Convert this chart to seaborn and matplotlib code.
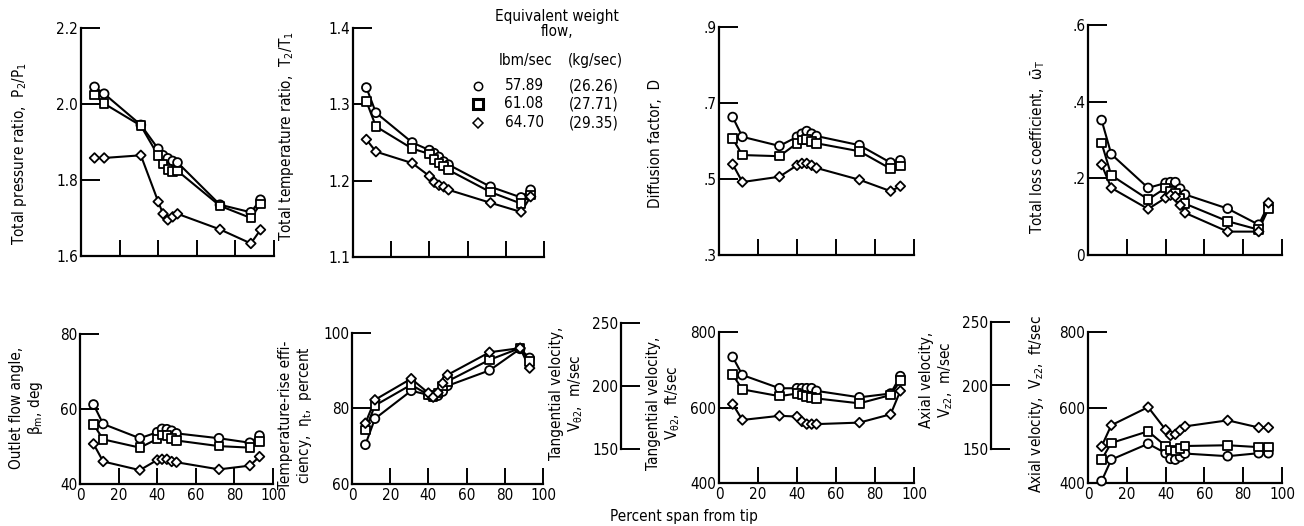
import numpy as np
import pandas as pd
import seaborn as sns
import matplotlib
matplotlib.use("Agg")
import matplotlib.pyplot as plt
from matplotlib.lines import Line2D

sns.set_theme(style="white")
plt.rcParams['font.family'] = ['DejaVu Sans']
plt.rcParams['font.stretch'] = 'condensed'
plt.rcParams['mathtext.default'] = 'regular'
plt.rcParams['text.color'] = 'black'
plt.rcParams['xtick.color'] = 'black'
plt.rcParams['ytick.color'] = 'black'

# ---------------- data ----------------
span = [7, 12, 31, 40, 42.5, 45, 47.5, 50, 72, 88, 93]
flow_labels = ["57.89", "61.08", "64.70"]
flow_kg = ["(26.26)", "(27.71)", "(29.35)"]

pressure_ratio_57 = [2.045, 2.027, 1.945, 1.882, 1.865, 1.857, 1.850, 1.846, 1.735, 1.715, 1.748]
pressure_ratio_61 = [2.024, 2.001, 1.943, 1.864, 1.842, 1.828, 1.822, 1.824, 1.732, 1.700, 1.737]
pressure_ratio_64 = [1.858, 1.858, 1.865, 1.743, 1.711, 1.695, 1.703, 1.711, 1.670, 1.633, 1.669]

temp_ratio_57 = [1.322, 1.289, 1.250, 1.240, 1.236, 1.231, 1.225, 1.221, 1.192, 1.178, 1.188]
temp_ratio_61 = [1.304, 1.271, 1.242, 1.235, 1.228, 1.223, 1.219, 1.214, 1.185, 1.170, 1.181]
temp_ratio_64 = [1.254, 1.238, 1.223, 1.206, 1.198, 1.194, 1.192, 1.188, 1.171, 1.159, 1.179]

diffusion_57 = [0.663, 0.611, 0.587, 0.611, 0.619, 0.626, 0.619, 0.613, 0.589, 0.543, 0.549]
diffusion_61 = [0.606, 0.563, 0.560, 0.594, 0.603, 0.604, 0.598, 0.594, 0.573, 0.527, 0.534]
diffusion_64 = [0.539, 0.492, 0.506, 0.536, 0.541, 0.541, 0.536, 0.529, 0.498, 0.468, 0.481]

loss_57 = [0.352, 0.263, 0.175, 0.188, 0.190, 0.190, 0.173, 0.158, 0.121, 0.079, 0.131]
loss_61 = [0.292, 0.208, 0.145, 0.175, 0.167, 0.160, 0.149, 0.134, 0.088, 0.066, 0.120]
loss_64 = [0.236, 0.175, 0.120, 0.149, 0.156, 0.153, 0.130, 0.110, 0.061, 0.061, 0.136]

angle_57 = [61.2, 56.0, 52.2, 53.8, 54.7, 54.6, 54.2, 53.5, 52.2, 51.0, 52.9]
angle_61 = [55.9, 51.9, 49.7, 52.0, 53.1, 52.9, 52.2, 51.6, 50.1, 49.7, 51.3]
angle_64 = [50.7, 46.0, 43.7, 46.4, 46.6, 46.6, 46.0, 45.8, 43.9, 44.9, 47.3]

efficiency_57 = [70.4, 77.3, 84.7, 83.6, 83.2, 83.4, 84.5, 86.0, 90.1, 95.8, 93.4]
efficiency_61 = [74.3, 80.8, 86.3, 83.6, 83.2, 84.1, 86.0, 87.2, 92.9, 96.0, 92.5]
efficiency_64 = [76.1, 82.3, 87.9, 84.1, 83.0, 84.2, 86.7, 88.9, 94.9, 96.0, 90.7]

tangential_57 = [734, 686, 651, 651, 651, 651, 651, 644, 627, 637, 683]
tangential_61 = [687, 648, 630, 637, 633, 629, 626, 624, 611, 633, 671]
tangential_64 = [609, 567, 578, 576, 563, 556, 556, 556, 560, 582, 644]

axial_57 = [405, 462, 504, 479, 464, 462, 469, 478, 471, 479, 479]
axial_61 = [462, 506, 537, 498, 487, 485, 491, 498, 500, 495, 495]
axial_64 = [497, 553, 601, 541, 526, 529, 540, 550, 566, 547, 547]

x_ticks = [0, 20, 40, 60, 80, 100]

# ---------------- figure ----------------
W, H = 1304, 526
fig = plt.figure(figsize=(W / 100, H / 100), dpi=100)
fig.patch.set_facecolor('white')

FS = 11
markers = {"57.89": "o", "61.08": "s", "64.70": "D"}
marker_sizes = {"57.89": 40, "61.08": 38, "64.70": 24}


def add_ax(x0, x1, ytop, ybot):
    return fig.add_axes([x0 / W, 1 - ybot / H, (x1 - x0) / W, (ybot - ytop) / H])


def style_ax(ax, ylim, yticks, yticklabels, bottom_labels):
    ax.set_facecolor('none')
    ax.set_xlim(0, 100)
    ax.set_ylim(*ylim)
    for s in ['top', 'right']:
        ax.spines[s].set_visible(False)
    for s in ['left', 'bottom']:
        ax.spines[s].set_color('black')
        ax.spines[s].set_linewidth(1.6)
    ax.set_yticks(yticks)
    ax.set_yticklabels(yticklabels, fontsize=FS)
    if bottom_labels:
        ax.set_xticks(x_ticks)
        ax.set_xticklabels([str(t) for t in x_ticks], fontsize=FS)
    else:
        ax.set_xticks(x_ticks[1:])
        ax.set_xticklabels([])
    ax.tick_params(axis='y', left=True, direction='in', length=13.5, width=1.4,
                   color='black', labelcolor='black', pad=2)
    ax.tick_params(axis='x', bottom=True, direction='in', length=11.5, width=1.4,
                   color='black', labelcolor='black', pad=3)
    ax.set_xlabel('')
    ax.set_ylabel('')
    ax.grid(False)


def draw(ax, s57, s61, s64):
    df = pd.DataFrame({
        'span': span * 3,
        'value': list(s57) + list(s61) + list(s64),
        'flow': [flow_labels[0]] * len(span) + [flow_labels[1]] * len(span) + [flow_labels[2]] * len(span),
    })
    sns.lineplot(data=df, x='span', y='value', units='flow', estimator=None, sort=True,
                 color='black', lw=1.5, ax=ax, legend=False)
    sns.scatterplot(data=df, x='span', y='value', style='flow', markers=markers,
                    size='flow', sizes=marker_sizes,
                    facecolor='white', edgecolor='black', linewidth=1.3,
                    ax=ax, legend=False, zorder=3, clip_on=False)


# top row
ax1 = add_ax(81, 274, 28, 256)
draw(ax1, pressure_ratio_57, pressure_ratio_61, pressure_ratio_64)
style_ax(ax1, (1.6, 2.2), [1.6, 1.8, 2.0, 2.2], ["1.6", "1.8", "2.0", "2.2"], False)

ax2 = add_ax(353, 544, 28, 257)
draw(ax2, temp_ratio_57, temp_ratio_61, temp_ratio_64)
style_ax(ax2, (1.1, 1.4), [1.1, 1.2, 1.3, 1.4], ["1.1", "1.2", "1.3", "1.4"], False)

ax3 = add_ax(719, 914, 27, 255)
draw(ax3, diffusion_57, diffusion_61, diffusion_64)
style_ax(ax3, (0.3, 0.9), [0.3, 0.5, 0.7, 0.9], [".3", ".5", ".7", ".9"], False)

ax4 = add_ax(1088, 1282, 25, 255)
draw(ax4, loss_57, loss_61, loss_64)
style_ax(ax4, (0.0, 0.6), [0.0, 0.2, 0.4, 0.6], ["0", ".2", ".4", ".6"], False)

# bottom row
ax5 = add_ax(80, 273, 334, 484)
draw(ax5, angle_57, angle_61, angle_64)
style_ax(ax5, (40, 80), [40, 60, 80], ["40", "60", "80"], True)

ax6 = add_ax(352, 543, 333, 484)
draw(ax6, efficiency_57, efficiency_61, efficiency_64)
style_ax(ax6, (60, 100), [60, 80, 100], ["60", "80", "100"], True)

ax7 = add_ax(719, 914, 332, 483)
draw(ax7, tangential_57, tangential_61, tangential_64)
style_ax(ax7, (400, 800), [400, 600, 800], ["400", "600", "800"], True)

ax8 = add_ax(1088, 1282, 332, 483)
draw(ax8, axial_57, axial_61, axial_64)
style_ax(ax8, (400, 800), [400, 600, 800], ["400", "600", "800"], True)


# m/sec companion scales
def scale_ax(x0, ytop, ybot):
    ax = fig.add_axes([x0 / W, 1 - ybot / H, 25 / W, (ybot - ytop) / H])
    ax.set_facecolor('none')
    ax.set_ylim(150, 250)
    ax.set_xticks([])
    for s in ['top', 'right', 'bottom']:
        ax.spines[s].set_visible(False)
    ax.spines['left'].set_color('black')
    ax.spines['left'].set_linewidth(1.6)
    ax.set_yticks([150, 200, 250])
    ax.set_yticklabels(["150", "200", "250"], fontsize=FS)
    ax.tick_params(axis='y', left=True, direction='in', length=13.5, width=1.4,
                   color='black', labelcolor='black', pad=2)
    ax.grid(False)
    return ax


scale_ax(621, 323, 449)
scale_ax(991, 322, 449)


# axis titles
def vlabel(x, y, s):
    fig.text(x / W, 1 - y / H, s, rotation=90, ha='center', va='center',
             multialignment='center', fontsize=FS, linespacing=1.1, color='black')


vlabel(20, 154, "Total pressure ratio,  $P_2/P_1$")
vlabel(287, 136, "Total temperature ratio,  $T_2/T_1$")
vlabel(655, 143, "Diffusion factor,  D")
vlabel(1038, 147, r"Total loss coefficient,  $\bar{\omega}_T$")
vlabel(27, 408, "Outlet flow angle,\n$\\beta_m$, deg")
vlabel(296, 415, "Temperature-rise effi-\nciency,  $\\eta_t$,  percent")
vlabel(567, 393, "Tangential velocity,\n$V_{\\theta2}$,  m/sec")
vlabel(664, 403, "Tangential velocity,\n$V_{\\theta2}$,  ft/sec")
vlabel(937, 380, "Axial velocity,\n$V_{z2}$,  m/sec")
vlabel(1037, 404, "Axial velocity,  $V_{z2}$,  ft/sec")

fig.text(684 / W, 1 - 517 / H, "Percent span from tip", ha='center', va='center', fontsize=FS)

# legend block
fig.text(557 / W, 1 - 16 / H, "Equivalent weight", ha='center', va='center', fontsize=FS)
fig.text(557 / W, 1 - 32 / H, "flow,", ha='center', va='center', fontsize=FS)
fig.text(526 / W, 1 - 61 / H, "lbm/sec", ha='center', va='center', fontsize=FS)
fig.text(595 / W, 1 - 61 / H, "(kg/sec)", ha='center', va='center', fontsize=FS)
rows_y = [86, 104, 123]
leg_marker_style = [("o", 6, 1.1), ("s", 7, 2.2), ("D", 5, 1.1)]
for (mk, ms, mew), lab, kg, yy in zip(leg_marker_style, flow_labels, flow_kg, rows_y):
    fig.add_artist(Line2D([478 / W], [1 - yy / H], marker=mk, markersize=ms,
                          markerfacecolor='white', markeredgecolor='black',
                          markeredgewidth=mew, linestyle='none', transform=fig.transFigure))
    fig.text(524 / W, 1 - yy / H, lab, ha='center', va='center', fontsize=FS)
    fig.text(594 / W, 1 - yy / H, kg, ha='center', va='center', fontsize=FS)

fig.savefig("out.png", dpi=100, facecolor='white')
